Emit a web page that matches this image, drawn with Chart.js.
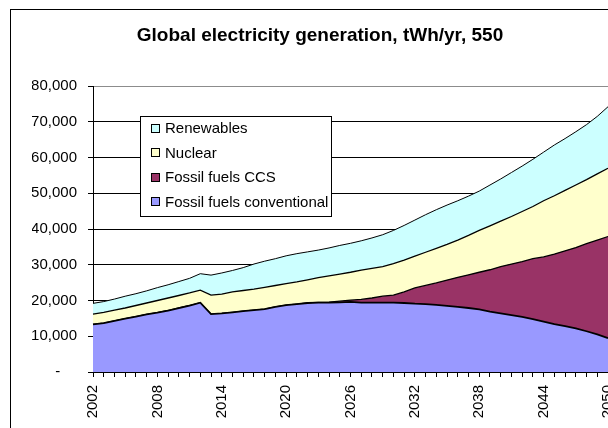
<!DOCTYPE html>
<html>
<head>
<meta charset="utf-8">
<script src="https://cdn.jsdelivr.net/npm/chart.js@4/dist/chart.umd.min.js"></script>
<style>
    body { margin: 0; background: #fff; overflow: hidden; }
    #grafico { display: block; }
</style>
</head>
<body>
<canvas id="grafico" width="640" height="428"></canvas>
<script>
const years = ['2002', '2003', '2004', '2005', '2006', '2007', '2008', '2009', '2010', '2011',
    '2012', '2013', '2014', '2015', '2016', '2017', '2018', '2019', '2020', '2021',
    '2022', '2023', '2024', '2025', '2026', '2027', '2028', '2029', '2030', '2031',
    '2032', '2033', '2034', '2035', '2036', '2037', '2038', '2039', '2040', '2041',
    '2042', '2043', '2044', '2045', '2046', '2047', '2048', '2049', '2050'];

// tWh/yr per source (stacked)
const fossilConventional = [13300, 13700, 14300, 14900, 15500, 16100, 16600, 17200, 17900, 18600,
    19400, 16200, 16400, 16700, 17000, 17300, 17600, 18200, 18700, 19000,
    19300, 19400, 19400, 19500, 19600, 19400, 19400, 19400, 19400, 19300,
    19100, 19000, 18800, 18500, 18200, 17900, 17500, 16900, 16400, 15900,
    15400, 14800, 14100, 13400, 12800, 12200, 11400, 10500, 9500];
const fossilCCS = [0, 0, 0, 0, 0, 0, 0, 0, 0, 0,
    0, 0, 0, 0, 0, 0, 0, 0, 0, 0,
    0, 50, 150, 300, 500, 900, 1300, 1800, 2100, 3100,
    4400, 5200, 6100, 7200, 8300, 9300, 10400, 11700, 13100, 14300,
    15500, 16900, 18100, 19600, 21100, 22600, 24500, 26400, 28400];
const nuclear = [2900, 3000, 3000, 3000, 3100, 3200, 3400, 3500, 3500, 3500,
    3500, 5300, 5400, 5700, 5800, 5900, 6100, 6000, 6000, 6200,
    6500, 6950, 7350, 7600, 7800, 8200, 8300, 8300, 8800, 8900,
    8900, 9300, 9700, 10000, 10400, 11000, 11700, 12300, 12700, 13300,
    14000, 14600, 15700, 16300, 16900, 17500, 17900, 18500, 19100];
const renewables = [3000, 3000, 3100, 3300, 3300, 3400, 3600, 3700, 3900, 4100,
    4600, 5600, 5900, 6000, 6400, 7000, 7300, 7500, 7800, 7900,
    7800, 7700, 7800, 8000, 8100, 8200, 8500, 8900, 9300, 9700,
    10100, 10500, 10800, 11000, 11000, 11000, 11000, 11400, 11800, 12300,
    12700, 13200, 13600, 14200, 14500, 14900, 15400, 16100, 17200];

const yTicks = [0, 10000, 20000, 30000, 40000, 50000, 60000, 70000, 80000];
const labelEvery = 6;

const fuente = "'Liberation Sans', Arial, sans-serif";
Chart.defaults.font.family = fuente;
Chart.defaults.color = '#000';

// white page + outer frame of the chart object
const marco = {
    id: 'marco',
    beforeDraw(chart) {
        const c = chart.ctx;
        c.save();
        c.fillStyle = '#fff';
        c.fillRect(0, 0, chart.width, chart.height);
        c.strokeStyle = '#000';
        c.lineWidth = 1;
        c.strokeRect(10.5, 9.5, 700, 500);
        c.restore();
    }
};

// legend box inside the plot, reversed order like Excel
const leyenda = {
    id: 'leyenda',
    afterDraw(chart) {
        const c = chart.ctx;
        c.save();
        c.fillStyle = '#fff';
        c.fillRect(140.5, 116.5, 191, 100);
        c.strokeStyle = '#000';
        c.lineWidth = 1;
        c.strokeRect(140.5, 116.5, 191, 100);
        c.font = '15px ' + fuente;
        c.textBaseline = 'middle';
        const ds = chart.data.datasets.slice().reverse();
        ds.forEach(function (d, i) {
            const y = 128.5 + i * 24.5;
            c.fillStyle = d.backgroundColor;
            c.fillRect(151.5, Math.round(y) - 4.5, 8, 8);
            c.strokeStyle = '#000';
            c.strokeRect(151.5, Math.round(y) - 4.5, 8, 8);
            c.fillStyle = '#000';
            c.fillText(d.label, 165, y + 0.5);
        });
        c.restore();
    }
};

function serie(label, data, color, fill, ancho) {
    return {
        label: label,
        data: data,
        backgroundColor: color,
        borderColor: '#000',
        borderWidth: ancho,
        fill: fill,
        pointRadius: 0,
        tension: 0
    };
}

const ctx = document.getElementById('grafico').getContext('2d');
new Chart(ctx, {
    type: 'line',
    data: {
        labels: years,
        datasets: [
            serie('Fossil fuels conventional', fossilConventional, '#9999FF', 'origin', 1.8),
            serie('Fossil fuels CCS', fossilCCS, '#993366', '-1', 1.3),
            serie('Nuclear', nuclear, '#FFFFCC', '-1', 1.3),
            serie('Renewables', renewables, '#CCFFFF', '-1', 1)
        ]
    },
    options: {
        responsive: false,
        animation: false,
        // left/right padding keep the title centred on the frame
        layout: { padding: { left: 32, right: 32, top: 0, bottom: 0 } },
        plugins: {
            legend: { display: false },
            tooltip: { enabled: false },
            title: {
                display: true,
                text: 'Global electricity generation, tWh/yr, 550',
                font: { size: 19, weight: 'bold' },
                color: '#000',
                padding: { top: 24.5, bottom: 38.7 }
            }
        },
        scales: {
            x: {
                offset: false,
                grid: { display: true, drawOnChartArea: false, drawTicks: true, tickLength: 5, color: '#000' },
                border: { display: true, color: '#000' },
                ticks: {
                    autoSkip: false,
                    maxRotation: 90,
                    minRotation: 90,
                    padding: 8,
                    font: { size: 15 },
                    callback: function (val, i) {
                        return i % labelEvery === 0 ? years[i] : '';
                    }
                },
                afterFit: function (scale) { scale.height = 56; }
            },
            y: {
                stacked: true,
                min: 0,
                max: 80000,
                afterBuildTicks: function (scale) {
                    scale.ticks = yTicks.map(function (v) { return { value: v }; });
                },
                grid: {
                    color: function (c) { return c.tick && c.tick.value === 80000 ? '#8c8c8c' : '#000'; },
                    tickColor: '#000',
                    tickLength: 5
                },
                border: { color: '#000' },
                ticks: {
                    padding: 11,
                    font: { size: 15 },
                    callback: function (v) {
                        return v === 0 ? '-    ' : v.toLocaleString('en-US');
                    }
                },
                afterFit: function (scale) { scale.width = 61; }
            }
        }
    },
    plugins: [marco, leyenda]
});
</script>
</body>
</html>
